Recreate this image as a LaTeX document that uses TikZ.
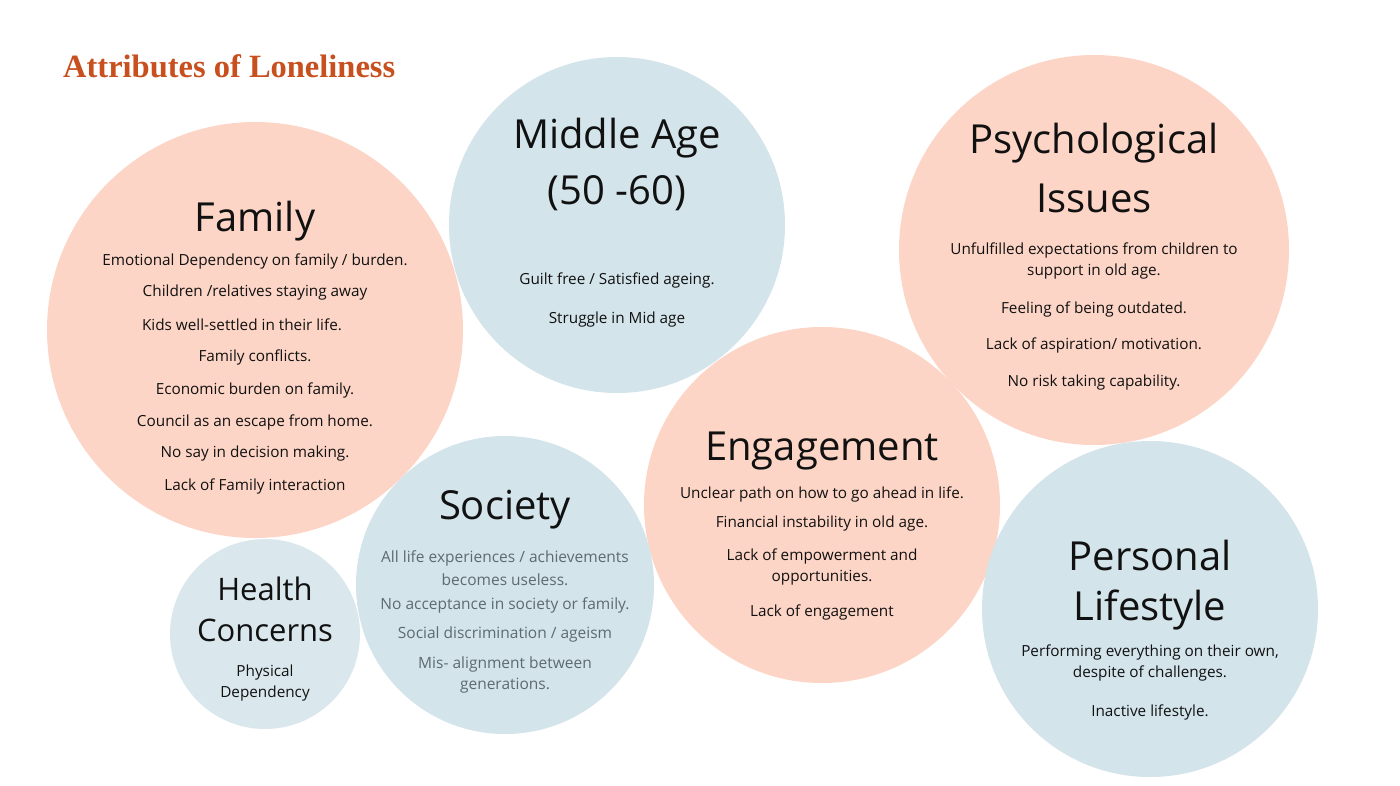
\documentclass[tikz,border=0pt]{standalone}
\usepackage{fontspec}
\setmainfont{Open Sans}
\newfontfamily\titlefont{Liberation Serif}
\definecolor{salmon}{HTML}{FDD5C6}
\definecolor{paleblue}{HTML}{D3E4EB}
\definecolor{lightblue}{HTML}{DAE8EE}
\definecolor{rust}{HTML}{C7501E}
\definecolor{greytext}{HTML}{5E6A72}
\definecolor{ink}{HTML}{111111}
\begin{document}
\begin{tikzpicture}[x=1pt,y=-1pt,
  bubble/.style={circle,draw=none,inner sep=0pt},
  head/.style={text=ink,font=\fontsize{40}{44}\selectfont,inner sep=0pt,yshift=-3pt},
  smallhead/.style={text=ink,font=\fontsize{31}{34}\selectfont,inner sep=0pt,yshift=-2pt},
  item/.style={text=ink,font=\fontsize{15.3}{18}\selectfont,inner sep=0pt,yshift=-3pt},
  greyitem/.style={text=greytext,font=\fontsize{15.5}{18}\selectfont,inner sep=0pt,yshift=-3pt}]
\useasboundingbox (0,0) rectangle (1400,785);
\fill[white] (0,0) rectangle (1400,785);
% circles
\node[bubble,fill=salmon,minimum size=416pt] (family) at (255,330) {};
\node[bubble,fill=paleblue,minimum size=336pt] (middle) at (617,225) {};
\node[bubble,fill=salmon,minimum size=390pt] (psych) at (1094,250) {};
\node[bubble,fill=salmon,minimum size=356pt] (engage) at (822,505) {};
\node[bubble,fill=paleblue,minimum size=336pt] (personal) at (1150,609) {};
\node[bubble,fill=paleblue,minimum size=298pt] (society) at (505,585) {};
\node[bubble,fill=lightblue,minimum size=190pt] (health) at (265,634) {};
% title
\node[anchor=west,inner sep=0pt,text=rust] (title) at (63,66) {\resizebox{332pt}{!}{\titlefont\bfseries\fontsize{30}{34}\selectfont Attributes of Loneliness}};
% Family
\node[head] (fam-h) at (255,218) {Family};
\node[item] (fam1) at (255,258) {Emotional Dependency on family / burden.};
\node[item] (fam2) at (255,290) {Children /relatives staying away};
\node[item] (fam3) at (242,322) {Kids well-settled in their life.};
\node[item] (fam4) at (255,354) {Family conflicts.};
\node[item] (fam5) at (255,387) {Economic burden on family.};
\node[item] (fam6) at (255,419) {Council as an escape from home.};
\node[item] (fam7) at (255,451) {No say in decision making.};
\node[item] (fam8) at (255,483) {Lack of Family interaction};
% Middle age
\node[head] (mid-h1) at (617,135) {Middle Age};
\node[head] (mid-h2) at (617,190) {(50 -60)};
\node[item] (mid1) at (617,277) {Guilt free / Satisfied ageing.};
\node[item] (mid2) at (617,317) {Struggle in Mid age};
% Psychological
\node[head] (psy-h1) at (1094,140) {Psychological};
\node[head] (psy-h2) at (1094,195) {Issues};
\node[item] (psy1) at (1094,247) {Unfulfilled expectations from children to};
\node[item] (psy2) at (1094,269) {support in old age.};
\node[item] (psy3) at (1094,306) {Feeling of being outdated.};
\node[item] (psy4) at (1094,342) {Lack of aspiration/ motivation.};
\node[item] (psy5) at (1094,380) {No risk taking capability.};
% Engagement
\node[head] (eng-h) at (822,448) {Engagement};
\node[item] (eng1) at (822,491) {Unclear path on how to go ahead in life.};
\node[item] (eng2) at (822,521) {Financial instability in old age.};
\node[item] (eng3) at (822,553) {Lack of empowerment and};
\node[item] (eng4) at (822,575) {opportunities.};
\node[item] (eng5) at (822,609) {Lack of engagement};
% Society
\node[head] (soc-h) at (505,507) {Society};
\node[greyitem] (soc1) at (505,555) {All life experiences / achievements};
\node[greyitem] (soc2) at (505,577) {becomes useless.};
\node[greyitem] (soc3) at (505,602) {No acceptance in society or family.};
\node[greyitem] (soc4) at (505,631) {Social discrimination / ageism};
\node[greyitem] (soc5) at (505,661) {Mis- alignment between};
\node[greyitem] (soc6) at (505,683) {generations.};
% Health
\node[smallhead] (hea-h1) at (265,587) {Health};
\node[smallhead] (hea-h2) at (265,628) {Concerns};
\node[item] (hea1) at (265,670) {Physical};
\node[item] (hea2) at (265,691) {Dependency};
% Personal lifestyle
\node[head] (per-h1) at (1150,552) {Personal};
\node[head] (per-h2) at (1150,607) {Lifestyle};
\node[item] (per1) at (1150,649) {Performing everything on their own,};
\node[item] (per2) at (1150,670) {despite of challenges.};
\node[item] (per3) at (1150,709) {Inactive lifestyle.};
\end{tikzpicture}
\end{document}
